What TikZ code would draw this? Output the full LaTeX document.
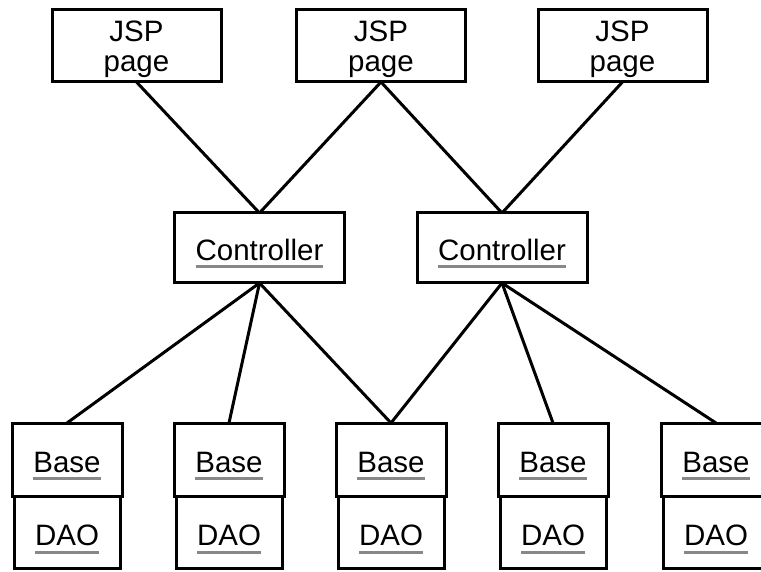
\documentclass[tikz,border=0pt]{standalone}
\usepackage{fontspec}
\setmainfont{Liberation Sans}
\definecolor{ulgray}{RGB}{136,136,136}
\begin{document}
\begin{tikzpicture}[x=1pt,y=-1pt,
  box/.style={draw=black, line width=3pt, inner sep=0pt, outer sep=0pt, fill=white},
  jspbox/.style={box, minimum width=169pt, minimum height=72pt},
  ctlbox/.style={box, minimum width=170pt, minimum height=70pt},
  basebox/.style={box, minimum width=110pt, minimum height=73pt},
  daobox/.style={box, minimum width=106pt, minimum height=72pt},
  lbl/.style={inner sep=0pt, outer sep=0pt, anchor=base, font=\fontsize{29.5}{30}\selectfont},
  link/.style={draw=black, line width=3pt},
  uline/.style={draw=ulgray, line width=3pt}]
\useasboundingbox (0,0) rectangle (761,572);
\clip (0,0) rectangle (761,572);

% JSP pages
\node[jspbox] (j1) at (136.5,46) {};
\node[jspbox] (j2) at (381,46) {};
\node[jspbox] (j3) at (622.5,46) {};
\foreach \n/\x in {j1/136.5, j2/381, j3/622.5} {
  \node[lbl] (\n a) at (\x,42) {JSP};
  \node[lbl] (\n b) at (\x,72) {page};
}

% Controllers
\node[ctlbox] (c1) at (259.5,248) {};
\node[ctlbox] (c2) at (502,248) {};
\foreach \n/\x in {c1/259.5, c2/502} {
  \node[lbl] (\n t) at (\x,261) {Controller};
  \draw[uline] ([yshift=-6pt]\n t.base west) -- ([yshift=-6pt]\n t.base east);
}

% Base / DAO stacks
\foreach \i/\x in {1/67, 2/229, 3/391, 4/553, 5/716} {
  \node[daobox] (d\i) at (\x,532) {};
  \node[basebox] (b\i) at (\x,459.5) {};
  \node[lbl] (b\i t) at (\x,472) {Base};
  \node[lbl] (d\i t) at (\x,545) {DAO};
  \draw[uline] ([yshift=-6pt]b\i t.base west) -- ([yshift=-6pt]b\i t.base east);
  \draw[uline] ([yshift=-7pt]d\i t.base west) -- ([yshift=-7pt]d\i t.base east);
}

% Connectors
\draw[link] (j1.south) -- (c1.north);
\draw[link] (j2.south) -- (c1.north);
\draw[link] (j2.south) -- (c2.north);
\draw[link] (j3.south) -- (c2.north);
\draw[link] (c1.south) -- (b1.north);
\draw[link] (c1.south) -- (b2.north);
\draw[link] (c1.south) -- (b3.north);
\draw[link] (c2.south) -- (b3.north);
\draw[link] (c2.south) -- (b4.north);
\draw[link] (c2.south) -- (b5.north);
\end{tikzpicture}
\end{document}
